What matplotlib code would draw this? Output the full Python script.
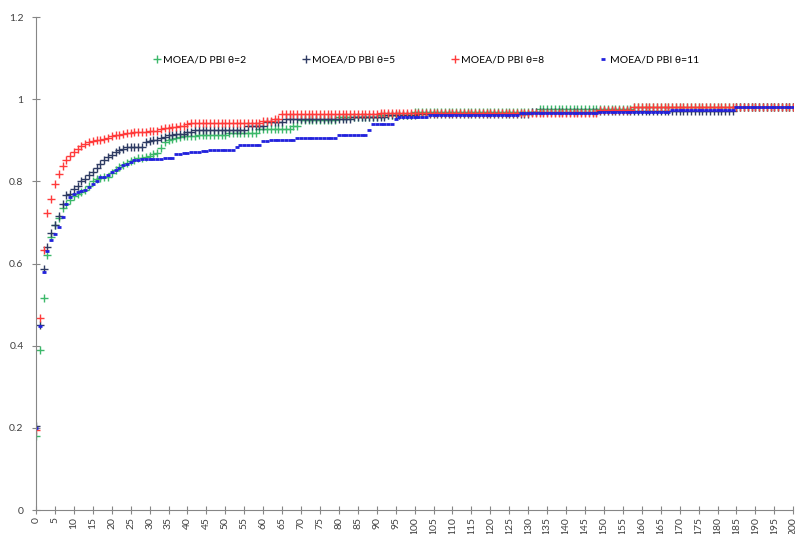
import numpy as np
import matplotlib.pyplot as plt

plt.rcParams['font.family'] = ['Lato', 'DejaVu Sans']

# step data: value holds from start x until next start
green_x = list(range(0, 39)) + [39, 43, 51, 59, 68, 70, 80, 91, 100, 133, 158]
green_y = [0.18, 0.39, 0.515, 0.62, 0.665, 0.695, 0.71, 0.735, 0.745, 0.755,
           0.765, 0.77, 0.775, 0.78, 0.79, 0.80, 0.805, 0.808, 0.81, 0.812,
           0.82, 0.828, 0.835, 0.84, 0.845, 0.85, 0.852, 0.856, 0.858, 0.86,
           0.863, 0.866, 0.87, 0.882, 0.895, 0.90, 0.903, 0.905, 0.907,
           0.91, 0.913, 0.917, 0.928, 0.935, 0.95, 0.957, 0.962, 0.968, 0.977, 0.982]

navy_x = list(range(0, 25)) + [29, 30, 31, 32, 33, 34, 35, 36, 37, 40, 42, 56, 61,
                              66, 84, 93, 101, 131, 149, 185]
navy_y = [0.205, 0.45, 0.587, 0.641, 0.674, 0.695, 0.717, 0.745, 0.766, 0.77,
          0.782, 0.79, 0.80, 0.807, 0.815, 0.823, 0.833, 0.843, 0.851, 0.859,
          0.865, 0.872, 0.876, 0.88, 0.885, 0.895, 0.898, 0.90, 0.902, 0.905,
          0.908, 0.912, 0.914, 0.916, 0.92, 0.926, 0.935, 0.945, 0.952, 0.957,
          0.961, 0.965, 0.970, 0.972, 0.982]

red_x = list(range(0, 27)) + [30, 32, 33, 34, 35, 36, 38, 40, 41, 60, 63, 65, 91, 149, 158]
red_y = [0.195, 0.468, 0.632, 0.722, 0.758, 0.793, 0.819, 0.837, 0.851, 0.861,
         0.872, 0.88, 0.887, 0.892, 0.895, 0.898, 0.90, 0.902, 0.904, 0.906,
         0.91, 0.912, 0.914, 0.916, 0.918, 0.919, 0.92, 0.922, 0.924, 0.927,
         0.929, 0.93, 0.933, 0.935, 0.94, 0.943, 0.947, 0.953, 0.964, 0.967,
         0.975, 0.982]

blue_x = list(range(0, 18)) + [19, 20, 21, 22, 23, 24, 25, 26, 28, 30, 34, 37, 39, 41,
                              44, 46, 53, 54, 60, 62, 69, 80, 88, 89, 95, 96, 104,
                              128, 149, 168, 185]
blue_y = [0.20, 0.449, 0.58, 0.63, 0.657, 0.671, 0.688, 0.714, 0.745, 0.762,
          0.77, 0.774, 0.776, 0.778, 0.786, 0.794, 0.802, 0.81, 0.815, 0.822,
          0.827, 0.833, 0.839, 0.843, 0.847, 0.851, 0.854, 0.855, 0.858, 0.866,
          0.869, 0.872, 0.874, 0.877, 0.884, 0.888, 0.898, 0.902, 0.905, 0.912,
          0.925, 0.939, 0.953, 0.958, 0.961, 0.966, 0.970, 0.973, 0.982]

n_gen = 201
labels = ["MOEA/D PBI θ=2", "MOEA/D PBI θ=5", "MOEA/D PBI θ=8", "MOEA/D PBI θ=11"]


def expand(starts, vals):
    counts = np.diff(starts + [n_gen])
    return np.repeat(vals, counts)


gen = np.arange(n_gen)
series = [
    (expand(green_x, green_y), "#3cb86a", "+", 6, 1.0),
    (expand(navy_x, navy_y), "#2e3b63", "+", 6, 1.0),
    (expand(red_x, red_y), "#ff3b3b", "+", 6, 1.0),
    (expand(blue_x, blue_y), "#2222dd", "_", 2.6, 2.0),
]

fig = plt.figure(figsize=(7.95, 5.34), dpi=100)
ax = fig.add_axes([0.0453, 0.0449, 0.9525, 0.923])

for (vals, col, mk, ms, mew), lab in zip(series, labels):
    ax.plot(gen, vals, linestyle="none", marker=mk, color=col,
            markersize=ms, markeredgewidth=mew, label=lab)

ax.set_xlim(0, 200)
ax.set_ylim(0, 1.2)
ax.set_xticks(np.arange(0, 201, 5))
ax.set_xticklabels([str(v) for v in range(0, 201, 5)], rotation=90, fontsize=7.5)
ax.set_yticks([0, 0.2, 0.4, 0.6, 0.8, 1.0, 1.2])
ax.set_yticklabels(["0", "0.2", "0.4", "0.6", "0.8", "1", "1.2"], fontsize=7.5)

for s in ["top", "right"]:
    ax.spines[s].set_visible(False)
for s in ["left", "bottom"]:
    ax.spines[s].set_color("#868686")
ax.tick_params(direction="inout", length=6, color="#868686", labelcolor="#404040")
ax.tick_params(axis="x", pad=2)
ax.tick_params(axis="y", pad=6)

fig.legend(loc="center", bbox_to_anchor=(0.535, 0.888), ncol=4, frameon=False,
           fontsize=7.5, columnspacing=5.2, handletextpad=0.1, handlelength=1.0,
           markerscale=0.9)

fig.savefig("out.png")
